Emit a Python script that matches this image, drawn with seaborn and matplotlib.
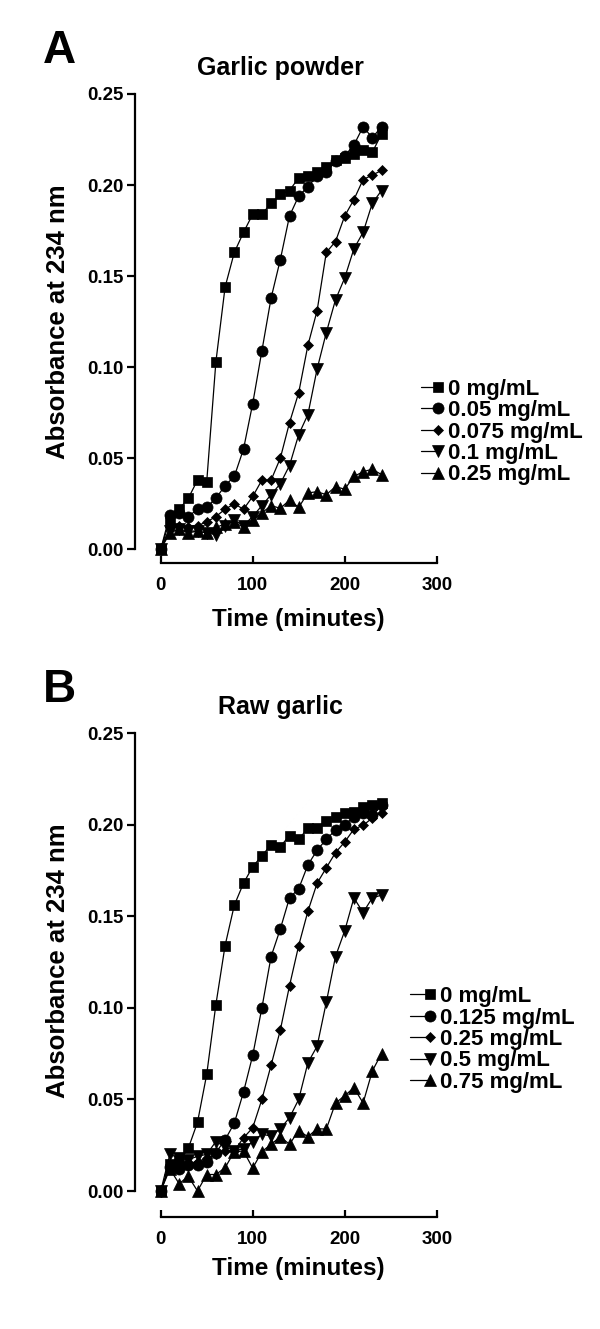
import numpy as np
import pandas as pd
import matplotlib
matplotlib.use('Agg')
import matplotlib.pyplot as plt
import seaborn as sns
from matplotlib.lines import Line2D
from matplotlib.legend_handler import HandlerLine2D
from matplotlib.ticker import FormatStrFormatter

# time points (minutes)
time = list(range(0, 250, 10))

# A - garlic powder
labels_a = ['0 mg/mL', '0.05 mg/mL', '0.075 mg/mL', '0.1 mg/mL', '0.25 mg/mL']
a_0 = [0, 0.016, 0.022, 0.028, 0.038, 0.037, 0.103, 0.144, 0.163, 0.174, 0.184, 0.184, 0.190,
       0.195, 0.197, 0.204, 0.205, 0.207, 0.210, 0.214, 0.215, 0.217, 0.219, 0.218, 0.228]
a_005 = [0, 0.019, 0.020, 0.018, 0.022, 0.023, 0.028, 0.035, 0.040, 0.055, 0.080, 0.109, 0.138,
         0.159, 0.183, 0.194, 0.199, 0.205, 0.207, 0.213, 0.216, 0.222, 0.232, 0.226, 0.232]
a_0075 = [0, 0.012, 0.013, 0.012, 0.013, 0.015, 0.018, 0.022, 0.025, 0.022, 0.029, 0.038, 0.038,
          0.050, 0.0695, 0.086, 0.112, 0.131, 0.163, 0.169, 0.183, 0.192, 0.203, 0.2055, 0.208]
a_01 = [0, 0.010, 0.011, 0.010, 0.010, 0.009, 0.008, 0.013, 0.016, 0.013, 0.018, 0.024, 0.030,
        0.036, 0.046, 0.063, 0.074, 0.099, 0.119, 0.137, 0.149, 0.165, 0.174, 0.190, 0.197]
a_025 = [0, 0.009, 0.011, 0.009, 0.010, 0.009, 0.012, 0.014, 0.015, 0.012, 0.016, 0.020, 0.024,
         0.0225, 0.027, 0.023, 0.031, 0.0316, 0.030, 0.0344, 0.033, 0.040, 0.0426, 0.044, 0.041]

# B - raw garlic
labels_b = ['0 mg/mL', '0.125 mg/mL', '0.25 mg/mL', '0.5 mg/mL', '0.75 mg/mL']
b_0 = [0, 0.015, 0.017, 0.0233, 0.0375, 0.0636, 0.1018, 0.134, 0.156, 0.168, 0.177, 0.183, 0.189,
       0.188, 0.194, 0.192, 0.198, 0.198, 0.202, 0.204, 0.2065, 0.207, 0.2096, 0.2105, 0.212]
b_0125 = [0, 0.013, 0.012, 0.014, 0.014, 0.016, 0.021, 0.028, 0.037, 0.054, 0.074, 0.100, 0.128,
          0.143, 0.160, 0.165, 0.178, 0.186, 0.192, 0.197, 0.200, 0.204, 0.2065, 0.205, 0.2105]
b_025 = [0, 0.014, 0.015, 0.015, 0.016, 0.018, 0.020, 0.022, 0.022, 0.029, 0.0345, 0.050, 0.0687,
         0.0878, 0.112, 0.134, 0.1527, 0.168, 0.1764, 0.1847, 0.1905, 0.1975, 0.1996, 0.2036, 0.2065]
b_05 = [0, 0.020, 0.018, 0.017, 0.019, 0.020, 0.027, 0.024, 0.022, 0.023, 0.027, 0.031, 0.030,
        0.034, 0.040, 0.050, 0.070, 0.079, 0.103, 0.128, 0.142, 0.160, 0.152, 0.160, 0.1615]
b_075 = [0, 0.012, 0.004, 0.008, 0.0, 0.009, 0.009, 0.0127, 0.0215, 0.0218, 0.0125, 0.0215, 0.0255,
         0.0296, 0.0255, 0.033, 0.0296, 0.034, 0.0338, 0.048, 0.052, 0.0564, 0.048, 0.0655, 0.075]

markers = ['s', 'o', 'D', 'v', '^']
msizes = [7.6, 8, 5, 8, 8]

sns.set_style('ticks')
plt.rcParams['font.family'] = ['Liberation Sans', 'DejaVu Sans']
plt.rcParams['font.weight'] = 'bold'
plt.rcParams['axes.labelweight'] = 'bold'
for k in ['text.color', 'axes.labelcolor', 'xtick.color', 'ytick.color', 'axes.edgecolor']:
    plt.rcParams[k] = 'black'


class RightMarker(HandlerLine2D):
    # line on the left, marker at the right end (like the original legend)
    def create_artists(self, *args, **kwargs):
        arts = super().create_artists(*args, **kwargs)
        for a in arts:
            a.set_markevery([2])
        return arts


def draw_panel(ax, series, x_off):
    for vals, m, s in zip(series, markers, msizes):
        sns.lineplot(x=time, y=vals, ax=ax, color='black', marker=m, markersize=s,
                     markeredgecolor='black', markeredgewidth=0.5, linewidth=0.9,
                     clip_on=False, legend=False)
    ax.set_xlim(0, 300)
    ax.set_ylim(0, 0.25)
    ax.set_xticks([0, 100, 200, 300])
    ax.set_yticks(np.arange(0, 0.26, 0.05))
    ax.yaxis.set_major_formatter(FormatStrFormatter('%.2f'))
    ax.set_xlabel('')
    ax.set_ylabel('')
    for sp in ['top', 'right']:
        ax.spines[sp].set_visible(False)
    ax.spines['left'].set_position(('outward', 18.5))
    ax.spines['bottom'].set_position(('outward', x_off))
    ax.spines['left'].set_linewidth(1.6)
    ax.spines['bottom'].set_linewidth(1.6)
    ax.tick_params(axis='y', direction='out', length=6, width=1.6, labelsize=13.5, pad=2)
    ax.tick_params(axis='x', direction='in', length=5, width=1.6, labelsize=13.5, pad=10)
    return ax.get_lines()[:5]


fig = plt.figure(figsize=(6, 13.29), dpi=100)
H = 1329.0

ax_a = fig.add_axes([160.7 / 600, 1 - 549.3 / H, 276 / 600, (549.3 - 94) / H])
ax_b = fig.add_axes([160.7 / 600, 1 - 1191 / H, 276 / 600, (1191 - 733) / H])

lines_a = draw_panel(ax_a, [a_0, a_005, a_0075, a_01, a_025], 10)
lines_b = draw_panel(ax_b, [b_0, b_0125, b_025, b_05, b_075], 18.5)

leg_kw = dict(loc='center left', bbox_transform=fig.transFigure, frameon=False,
              fontsize=16, borderpad=0, borderaxespad=0, labelspacing=0.02,
              handletextpad=0.45, handler_map={Line2D: RightMarker(numpoints=1)})
ax_a.legend(lines_a, labels_a, bbox_to_anchor=(421 / 600, 1 - 432 / H),
            handlelength=0.75, **leg_kw)
ax_b.legend(lines_b, labels_b, bbox_to_anchor=(410 / 600, 1 - 1039.5 / H),
            handlelength=0.9, **leg_kw)

# panel letters, titles and axis labels
for dy, letter, title in [(0, 'A', 'Garlic powder'), (639, 'B', 'Raw garlic')]:
    fig.text(43 / 600, 1 - (63 + dy) / H, letter, fontsize=33, fontweight='bold', va='baseline')
    fig.text(280 / 600, 1 - (75 + dy) / H, title, fontsize=18, fontweight='bold',
             ha='center', va='baseline')
    fig.text(58 / 600, 1 - (322 + dy) / H, 'Absorbance at 234 nm', fontsize=18.5,
             fontweight='bold', rotation=90, ha='center', va='center')
fig.text(298 / 600, 1 - 620 / H, 'Time (minutes)', fontsize=17.5, fontweight='bold',
         ha='center', va='center')
fig.text(298 / 600, 1 - 1268 / H, 'Time (minutes)', fontsize=17.5, fontweight='bold',
         ha='center', va='center')

fig.savefig('out.png', dpi=100)
